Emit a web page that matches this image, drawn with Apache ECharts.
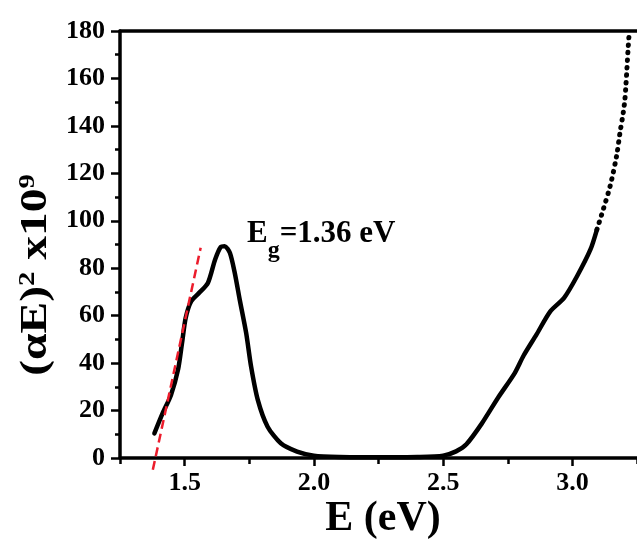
<!DOCTYPE html>
<html><head><meta charset="utf-8">
<script src="https://cdn.jsdelivr.net/npm/echarts@6/dist/echarts.min.js"></script>
<style>html,body{margin:0;padding:0;background:#fff}#c{width:637px;height:545px}</style>
</head><body><div id="c"></div>
<script>
// ---- data ----
const xMajorTicks = [1.5, 2.0, 2.5, 3.0];
const xMinorTicks = [1.25, 1.75, 2.25, 2.75, 3.25];
const yTicks = [0, 20, 40, 60, 80, 100, 120, 140, 160, 180];

const energy = [1.383, 1.415, 1.447, 1.475, 1.490, 1.504, 1.525, 1.555, 1.590, 1.618, 1.640, 1.655, 1.675, 1.694, 1.713, 1.738, 1.757, 1.783, 1.821, 1.872, 1.935, 2.0, 2.1, 2.2, 2.3, 2.4, 2.5, 2.55, 2.59, 2.65, 2.713, 2.777, 2.811, 2.861, 2.914, 2.968, 3.018, 3.07, 3.095];
const absorption = [10.4, 18.9, 26.5, 37.5, 48.5, 59.0, 66.0, 69.5, 73.8, 83.7, 89.0, 89.3, 86.5, 78.0, 66.8, 52.7, 38.6, 24.5, 13.2, 6.2, 2.7, 1.0, 0.4, 0.3, 0.3, 0.4, 1.0, 2.8, 5.8, 14.6, 25.5, 35.8, 43.1, 52.0, 61.7, 67.5, 76.6, 87.9, 96.3];

const energyDotted = [3.095, 3.12, 3.146, 3.171, 3.184, 3.197, 3.203, 3.207, 3.211, 3.215, 3.219];
const absorptionDotted = [96.3, 105, 114.6, 127.3, 137, 145.7, 151, 157, 164, 171.6, 178];

const tangentE = [1.377, 1.562];
const tangentY = [-5, 88.6];

const xName = 'E (eV)';
const annotation = '{e|E}{g|g}{t|=1.36 eV}';
const yName = '{a|(αE)}{s|2}{a| x10}{s|9}';

// ---- chart ----
const zip = (a, b) => a.map((v, i) => [v, b[i]]);
const FONT = "'Liberation Serif','Times New Roman',serif";
const chart = echarts.init(document.getElementById('c'), null, {renderer: 'canvas'});

const axisLabelStyle = {color: '#000', fontFamily: FONT, fontWeight: 'bold', fontSize: 26};

chart.setOption({
  animation: false,
  backgroundColor: '#fff',
  grid: {left: 120, top: 31, right: -7, bottom: 87, containLabel: false},
  xAxis: [
    {
      type: 'value', position: 'bottom', min: 1.25, max: 3.25, interval: 0.25,
      axisLine: {show: true, onZero: false, lineStyle: {color: '#000', width: 3.5}},
      axisTick: {show: true, customValues: xMajorTicks, length: 8, inside: false, lineStyle: {color: '#000', width: 2.5}},
      axisLabel: Object.assign({customValues: xMajorTicks, margin: 12, formatter: v => Number(v).toFixed(1)}, axisLabelStyle),
      splitLine: {show: false}
    },
    {
      type: 'value', position: 'bottom', min: 1.25, max: 3.25, interval: 0.25,
      axisLine: {show: false, onZero: false},
      axisTick: {show: true, customValues: xMinorTicks, length: 6, inside: false, lineStyle: {color: '#000', width: 2.5}},
      axisLabel: {show: false},
      splitLine: {show: false}
    },
    {
      type: 'value', position: 'top', min: 1.25, max: 3.25,
      axisLine: {show: true, onZero: false, lineStyle: {color: '#000', width: 3.5}},
      axisTick: {show: false}, axisLabel: {show: false}, splitLine: {show: false}
    }
  ],
  yAxis: [
    {
      type: 'value', min: 0, max: 180, interval: 20,
      axisLine: {show: true, onZero: false, lineStyle: {color: '#000', width: 3.5}},
      axisTick: {show: true, length: 9, inside: false, lineStyle: {color: '#000', width: 2.5}},
      minorTick: {show: true, splitNumber: 2, length: 5, lineStyle: {color: '#000', width: 2.5}},
      axisLabel: Object.assign({customValues: yTicks, margin: 15}, axisLabelStyle),
      splitLine: {show: false}, minorSplitLine: {show: false}
    }
  ],
  series: [
    {
      type: 'line', xAxisIndex: 0, yAxisIndex: 0, data: zip(energy, absorption),
      smooth: 0.25, showSymbol: false, symbol: 'none',
      lineStyle: {color: '#000', width: 4.5, cap: 'round', join: 'round'}, z: 2
    },
    {
      type: 'line', xAxisIndex: 0, yAxisIndex: 0, data: zip(energyDotted, absorptionDotted),
      smooth: 0.3, showSymbol: false, symbol: 'none', clip: true,
      lineStyle: {color: '#000', width: 5, type: [0.5, 7], cap: 'round'}, z: 2
    },
    {
      type: 'line', xAxisIndex: 0, yAxisIndex: 0, data: zip(tangentE, tangentY),
      showSymbol: false, symbol: 'none', clip: false,
      lineStyle: {color: '#ec1c2c', width: 2.5, type: [9, 5]}, z: 3
    }
  ],
  graphic: [
    {
      type: 'text', left: 247, top: 218, silent: true,
      style: {
        text: annotation, fill: '#000',
        rich: {
          e: {fontFamily: FONT, fontWeight: 'bold', fontSize: 31, lineHeight: 31, verticalAlign: 'top', fill: '#000'},
          g: {fontFamily: FONT, fontWeight: 'bold', fontSize: 24, lineHeight: 24, padding: [21, 0, 0, 0], verticalAlign: 'top', fill: '#000'},
          t: {fontFamily: FONT, fontWeight: 'bold', fontSize: 31, lineHeight: 31, verticalAlign: 'top', fill: '#000'}
        }
      }
    },
    {
      type: 'text', x: 383, y: 519, silent: true,
      style: {text: xName, fill: '#000', fontFamily: FONT, fontWeight: 'bold', fontSize: 42, align: 'center', verticalAlign: 'middle'}
    },
    {
      type: 'text', x: 36, y: 275, rotation: Math.PI / 2, scaleX: 1.25, silent: true,
      style: {
        text: yName, fill: '#000', align: 'center', verticalAlign: 'middle',
        rich: {
          a: {fontFamily: FONT, fontWeight: 'bold', fontSize: 38, lineHeight: 38, verticalAlign: 'top', fill: '#000'},
          s: {fontFamily: FONT, fontWeight: 'bold', fontSize: 23, lineHeight: 23, verticalAlign: 'top', fill: '#000'}
        }
      }
    }
  ]
});
</script>
</body></html>
